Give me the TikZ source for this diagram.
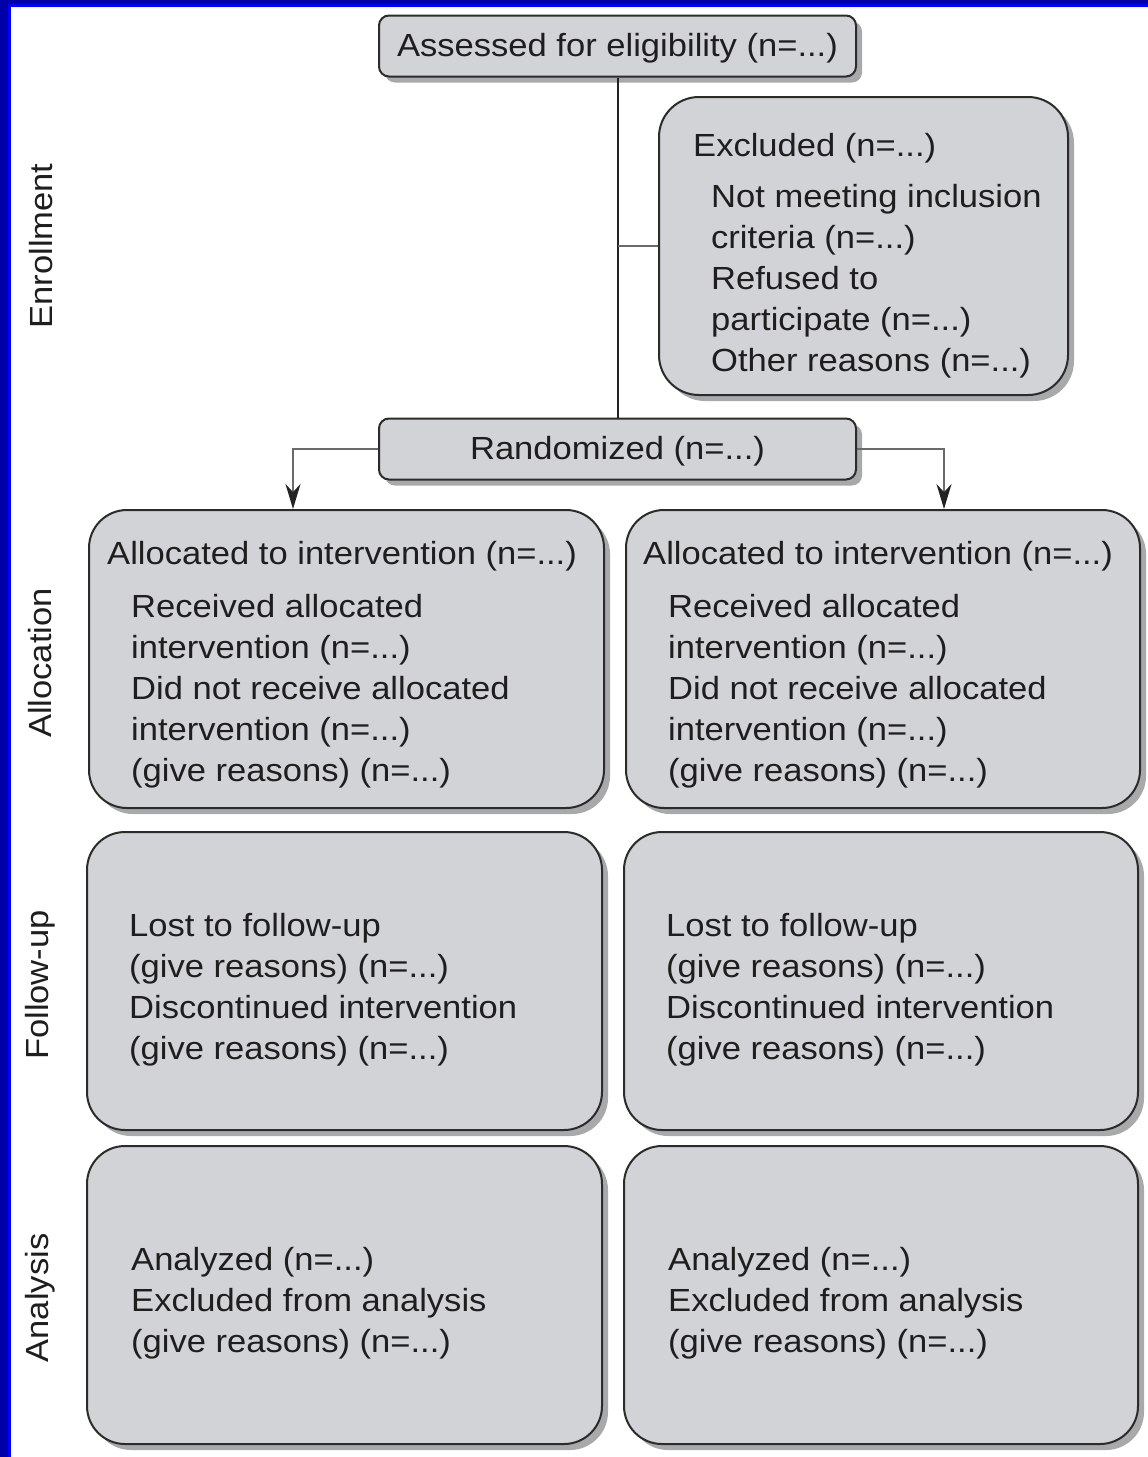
\documentclass[tikz,border=0pt]{standalone}
\usepackage{fontspec}
\setmainfont{Liberation Sans}[FakeStretch=1.08]
\usetikzlibrary{arrows.meta,shadows,calc}

\definecolor{navyband}{HTML}{0000A8}
\definecolor{brightband}{HTML}{0000FF}
\definecolor{boxfill}{HTML}{D2D3D6}
\definecolor{boxline}{HTML}{2B2B2B}
\definecolor{shadowgray}{HTML}{A9A9AB}
\definecolor{inkgray}{HTML}{1E1E1E}
\definecolor{trunkline}{HTML}{222222}
\definecolor{branchline}{HTML}{6A6A6A}

\tikzset{
  txt/.style={font=\fontsize{32}{41}\selectfont, text=inkgray, inner sep=0pt},
  block/.style={txt, anchor=west, align=left, yshift=-3pt},
  stagebox/.style={draw=boxline, line width=2pt, fill=boxfill, rounded corners=#1,
    drop shadow={shadow xshift=6pt, shadow yshift=-6pt, fill=shadowgray, opacity=1},
    txt, inner sep=0pt},
  smallbox/.style={stagebox=10pt, minimum width=477pt, minimum height=61pt,
    text height=23pt, text depth=3pt},
  bigbox/.style={stagebox=38pt, minimum width=515pt, minimum height=298pt},
  trunk/.style={draw=trunkline, line width=2pt},
  branch/.style={draw=branchline, line width=2pt},
  arrowed/.style={branch, -{Stealth[length=25pt,width=15pt,color=trunkline,fill=trunkline]}},
  sidelabel/.style={txt, rotate=90}
}

\begin{document}
\begin{tikzpicture}[x=1pt,y=-1pt]
  \useasboundingbox (0,0) rectangle (1148,1457);
  \fill[white] (0,0) rectangle (1148,1457);

  % frame bands along the left and top edges
  \fill[navyband] (0,0) rectangle (1148,4);
  \fill[navyband] (0,0) rectangle (8,1457);
  \fill[brightband] (8,4) rectangle (1148,6.5);
  \fill[brightband] (8,4) rectangle (10.5,1457);

  % stage labels
  \node[sidelabel] (labEnroll) at (41,246) {Enrollment};
  \node[sidelabel] (labAlloc)  at (40,663) {Allocation};
  \node[sidelabel] (labFollow) at (40,985) {Follow-up};
  \node[sidelabel] (labAnal)   at (40,1298) {Analysis};

  % enrollment
  \node[smallbox] (assess) at (617.5,46) {Assessed for eligibility (n=...)};
  \node[stagebox=40pt, minimum width=409pt, minimum height=298pt] (excl) at (863.5,246) {};
  \node[smallbox] (rand) at (617.5,449) {Randomized (n=...)};

  \node[block] (exclTitle) at (693,145) {Excluded (n=...)};
  \node[block] (exclList) at (711,278.5) {Not meeting inclusion\\criteria (n=...)\\Refused to\\participate (n=...)\\Other reasons (n=...)};

  % allocation
  \node[bigbox] (allocL) at (346.5,659) {};
  \node[bigbox, minimum width=514pt] (allocR) at (883,659) {};
  \node[block] (allocLTitle) at (107,553) {Allocated to intervention (n=...)};
  \node[block] (allocLList) at (131,688.5) {Received allocated\\intervention (n=...)\\Did not receive allocated\\intervention (n=...)\\(give reasons) (n=...)};
  \node[block] (allocRTitle) at (643,553) {Allocated to intervention (n=...)};
  \node[block] (allocRList) at (668,688.5) {Received allocated\\intervention (n=...)\\Did not receive allocated\\intervention (n=...)\\(give reasons) (n=...)};

  % follow-up
  \node[bigbox] (fuL) at (344.5,981) {};
  \node[bigbox, minimum width=514pt] (fuR) at (881,981) {};
  \node[block] (fuLList) at (129,987) {Lost to follow-up\\(give reasons) (n=...)\\Discontinued intervention\\(give reasons) (n=...)};
  \node[block] (fuRList) at (666,987) {Lost to follow-up\\(give reasons) (n=...)\\Discontinued intervention\\(give reasons) (n=...)};

  % analysis
  \node[bigbox] (anL) at (344.5,1295) {};
  \node[bigbox, minimum width=514pt] (anR) at (881,1295) {};
  \node[block] (anLList) at (131,1300.5) {Analyzed (n=...)\\Excluded from analysis\\(give reasons) (n=...)};
  \node[block] (anRList) at (668,1300.5) {Analyzed (n=...)\\Excluded from analysis\\(give reasons) (n=...)};

  % connectors
  \coordinate (dropL) at (293,0);
  \coordinate (dropR) at (944,0);
  \draw[trunk] (assess.south) -- (rand.north);
  \draw[branch] (excl.west) -- (excl.west -| assess.south);
  \draw[arrowed] (rand.west) -| (dropL |- allocL.north);
  \draw[arrowed] (rand.east) -| (dropR |- allocR.north);
\end{tikzpicture}
\end{document}
